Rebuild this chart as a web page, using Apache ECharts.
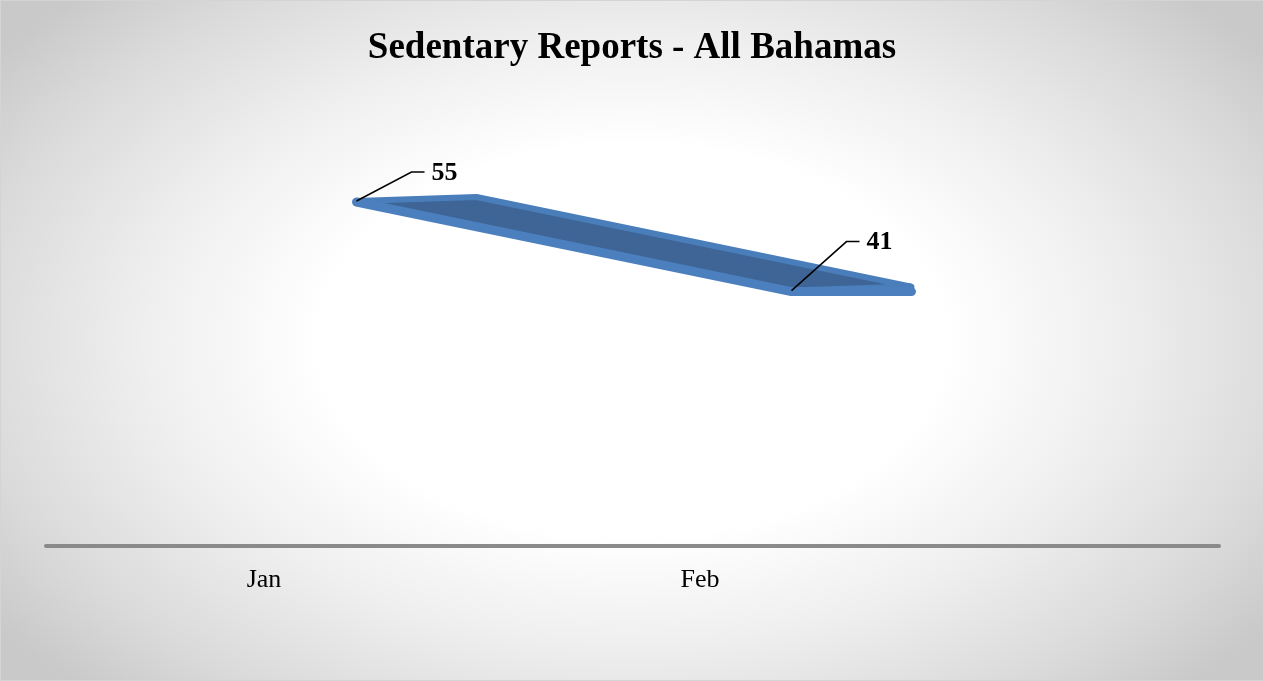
<!DOCTYPE html>
<html>
<head>
<meta charset="utf-8">
<script src="https://cdn.jsdelivr.net/npm/echarts@6/dist/echarts.min.js"></script>
<style>
html,body{margin:0;padding:0;background:#fff;}
#chart{position:absolute;left:0;top:0;width:1262px;height:679px;border:1px solid #d4d4d4;
background:radial-gradient(ellipse 62% 72% at 50% 50%, #ffffff 0%, #ffffff 40%, #efefef 62%, #dadada 85%, #c9c9c9 100%);}
</style>
</head>
<body>
<div id="chart"></div>
<script>
var titleText = 'Sedentary Reports - All Bahamas';
var categories = ['Jan', 'Feb'];
var values = [55, 41];

var chart = echarts.init(document.getElementById('chart'));
var serif = '"Liberation Serif","Times New Roman",serif';

function renderRibbon(params, api) {
  var children = [];
  var i = params.dataIndex;
  var p = api.coord([i, api.value(1)]);
  if (i === 0) {
    var a = api.coord([0, values[0]]);
    var b = api.coord([1, values[1]]);
    var dx = 120, dy = -4;
    children.push({
      type: 'polygon',
      shape: {points: [[a[0], a[1]], [b[0], b[1]], [b[0] + dx, b[1] + dy], [a[0] + dx, a[1] + dy]]},
      style: {fill: '#3e6596', stroke: '#4a7ebb', lineWidth: 6, lineJoin: 'round'}
    });
    children.push({
      type: 'polyline',
      shape: {points: [[a[0], a[1] + 1], [b[0], b[1] + 1], [b[0] + dx, b[1] + 1]]},
      style: {stroke: '#4b7fbe', lineWidth: 9, lineJoin: 'round', lineCap: 'round', fill: null}
    });
  }
  var lx = 55;
  var ly = (i === 0) ? -29 : -49;
  children.push({
    type: 'polyline',
    z2: 10,
    shape: {points: [[p[0], p[1]], [p[0] + lx, p[1] + ly], [p[0] + lx + 13, p[1] + ly]]},
    style: {stroke: '#000', lineWidth: 1.5, fill: null}
  });
  children.push({
    type: 'text',
    z2: 10,
    style: {
      x: p[0] + lx + 20, y: p[1] + ly + 1,
      text: String(api.value(1)),
      font: 'bold 26px ' + serif,
      fill: '#000',
      verticalAlign: 'middle', align: 'left'
    }
  });
  return {type: 'group', children: children};
}

chart.setOption({
  animation: false,
  title: {
    text: titleText, left: 'center', top: 24,
    textStyle: {fontFamily: serif, fontSize: 37, fontWeight: 'bold', color: '#000'}
  },
  grid: [
    {left: 45, right: 44, top: 100, bottom: 134},
    {left: 45, width: 872, top: 100, bottom: 134},
    {left: 138, width: 870, top: 168, bottom: 127}
  ],
  xAxis: [
    {gridIndex: 0, type: 'category', data: [''], axisLine: {show: true, lineStyle: {color: '#8a8a8a', width: 4}},
     axisTick: {show: false}, axisLabel: {show: false}, splitLine: {show: false}},
    {gridIndex: 1, type: 'category', data: categories, axisLine: {show: false}, axisTick: {show: false},
     axisLabel: {margin: 21, fontFamily: serif, fontSize: 26, color: '#000'}},
    {gridIndex: 2, type: 'category', data: categories, show: false}
  ],
  yAxis: [
    {gridIndex: 0, type: 'value', show: false},
    {gridIndex: 1, type: 'value', show: false},
    {gridIndex: 2, type: 'value', min: 0, max: 60, show: false}
  ],
  series: [{
    type: 'custom',
    xAxisIndex: 2, yAxisIndex: 2,
    renderItem: renderRibbon,
    data: values.map(function (v, i) { return [i, v]; }),
    clip: false
  }]
});
</script>
</body>
</html>
